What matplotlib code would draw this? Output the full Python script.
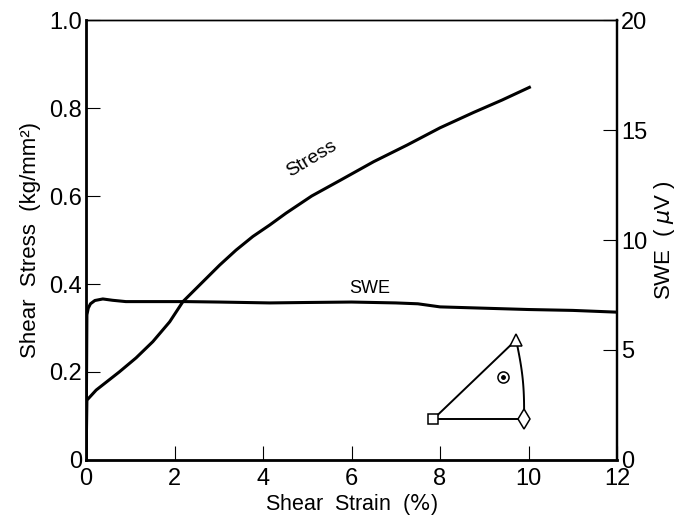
import numpy as np
import matplotlib.pyplot as plt

# stress-strain curve (left axis, kg/mm^2)
strain_s = [0.0, 0.02, 0.23, 0.75, 1.13, 1.51, 1.89, 2.19, 2.64, 3.02, 3.39,
            3.77, 4.15, 4.52, 5.1, 5.75, 6.5, 7.26, 8.0, 8.76, 9.4, 10.02]
stress = [0.0, 0.136, 0.159, 0.2, 0.232, 0.269, 0.314, 0.36, 0.405, 0.443,
          0.477, 0.508, 0.534, 0.561, 0.6, 0.636, 0.678, 0.716, 0.755, 0.79,
          0.818, 0.847]

# SWE curve (right axis, uV)
strain_w = [0.0, 0.02, 0.05, 0.1, 0.2, 0.38, 0.6, 0.9, 1.5, 2.26, 3.0, 4.15,
            5.0, 6.0, 7.0, 7.5, 8.0, 9.0, 10.0, 11.0, 12.0]
swe = [0.0, 6.6, 6.9, 7.1, 7.25, 7.32, 7.26, 7.2, 7.2, 7.2, 7.18, 7.14,
       7.16, 7.18, 7.14, 7.10, 6.96, 6.9, 6.84, 6.8, 6.72]

# stereographic triangle corners (strain, stress units)
tri_square = (7.85, 0.093)
tri_diamond = (9.9, 0.093)
tri_apex = (9.72, 0.273)
tri_dot = (9.43, 0.189)

plt.rcParams['font.family'] = ['Liberation Sans', 'DejaVu Sans']

fig = plt.figure(figsize=(6.79, 5.2), dpi=100)
ax = fig.add_axes([0.1267, 0.1154, 0.782, 0.8461])
ax2 = ax.twinx()

ax.plot(strain_s, stress, color='black', lw=2.2, solid_joinstyle='round')
ax2.plot(strain_w, swe, color='black', lw=2.2, solid_joinstyle='round')

ax.set_xlim(0, 12)
ax.set_ylim(0, 1.0)
ax2.set_ylim(0, 20)

ax.set_xticks([0, 2, 4, 6, 8, 10, 12])
ax.set_xticklabels(['0', '2', '4', '6', '8', '10', '12'])
ax.set_yticks([0, 0.2, 0.4, 0.6, 0.8, 1.0])
ax.set_yticklabels(['0', '0.2', '0.4', '0.6', '0.8', '1.0'])
ax2.set_yticks([0, 5, 10, 15, 20])

for a in (ax, ax2):
    a.tick_params(direction='in', length=10, width=0.8, labelsize=17, pad=3)
ax.tick_params(axis='x', pad=6)
ax.spines['left'].set_linewidth(2.0)
ax.spines['bottom'].set_linewidth(2.0)
ax.spines['right'].set_linewidth(1.6)
ax.spines['top'].set_linewidth(1.0)
ax2.spines['right'].set_linewidth(1.6)
ax2.spines['top'].set_linewidth(1.0)

ax.set_xlabel('Shear  Strain  ($\\it{\\%}$)', fontsize=15.5, labelpad=1)
ax.set_ylabel('Shear  Stress  (kg/mm²)', fontsize=16, labelpad=6)
ax2.set_ylabel('SWE  ( $\\mu$V )', fontsize=16, rotation=90, labelpad=3)

ax.text(5.1, 0.685, 'Stress', fontsize=14, rotation=31, ha='center', va='center')
ax.text(6.4, 0.389, 'SWE', fontsize=13, ha='center', va='center')

# stereographic triangle inset
ax.plot([tri_square[0], tri_diamond[0]], [tri_square[1], tri_square[1]],
        color='black', lw=1.4)
ax.plot([tri_square[0], tri_apex[0]], [tri_square[1], tri_apex[1]],
        color='black', lw=1.4)
t = np.linspace(0, 1, 30)
arc_x = tri_apex[0] + (tri_diamond[0] - tri_apex[0]) * t + 0.06 * np.sin(np.pi * t)
arc_y = tri_apex[1] + (tri_diamond[1] - tri_apex[1]) * t
ax.plot(arc_x, arc_y, color='black', lw=1.4)
ax.plot(*tri_square, marker='s', ms=7, mfc='white', mec='black', mew=1.1)
ax.plot(*tri_diamond, marker='d', ms=10, mfc='white', mec='black', mew=1.1)
ax.plot(*tri_apex, marker='^', ms=9, mfc='white', mec='black', mew=1.1)
ax.plot(*tri_dot, marker='o', ms=8, mfc='white', mec='black', mew=1.1)
ax.plot(*tri_dot, marker='o', ms=2.5, color='black')

fig.savefig('out.png', dpi=100)
